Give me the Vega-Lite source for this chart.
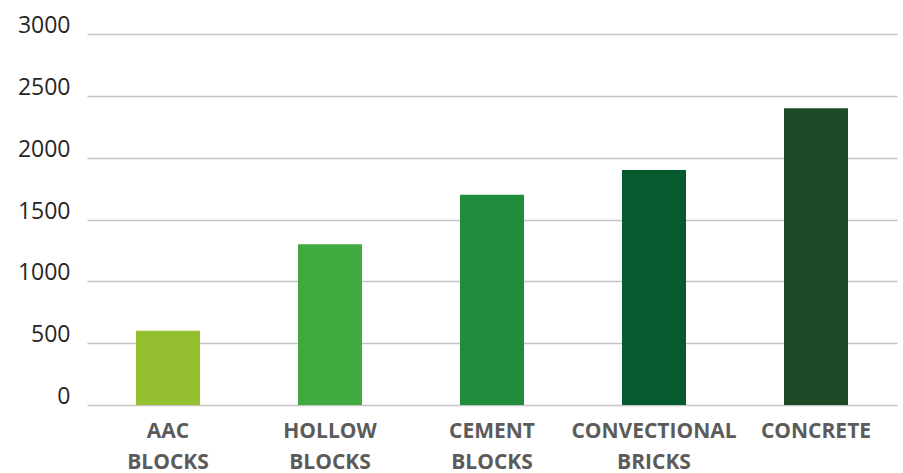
{
  "$schema": "https://vega.github.io/schema/vega-lite/v6.json",
  "autosize": {"type": "none"},
  "padding": {"left": 87, "top": 34, "right": 6, "bottom": 68},
  "width": 810,
  "height": 371,
  "background": "white",
  "data": {
    "values": [
      {"material": "AAC BLOCKS", "value": 600, "color": "#94c02f"},
      {"material": "HOLLOW BLOCKS", "value": 1300, "color": "#40aa40"},
      {"material": "CEMENT BLOCKS", "value": 1700, "color": "#1f8d3c"},
      {"material": "CONVECTIONAL BRICKS", "value": 1900, "color": "#065b2e"},
      {"material": "CONCRETE", "value": 2400, "color": "#1c4a26"}
    ]
  },
  "mark": {"type": "bar"},
  "encoding": {
    "x": {
      "field": "material",
      "type": "nominal",
      "sort": null,
      "scale": {"paddingInner": 0.605, "paddingOuter": 0.3025},
      "axis": {
        "title": null,
        "domain": false,
        "ticks": false,
        "labelAngle": 0,
        "labelExpr": "split(datum.label, ' ')",
        "labelFont": "Open Sans",
        "labelFontWeight": "bold",
        "labelFontSize": 21,
        "labelColor": "#5b5b5b",
        "labelLineHeight": 31,
        "labelPadding": 15,
        "labelLimit": 300
      }
    },
    "y": {
      "field": "value",
      "type": "quantitative",
      "scale": {"domain": [0, 3000]},
      "axis": {
        "title": null,
        "values": [0, 500, 1000, 1500, 2000, 2500, 3000],
        "format": "d",
        "domain": false,
        "ticks": false,
        "grid": true,
        "gridColor": "#c4c4c4",
        "gridWidth": 1.4,
        "labelFont": "Open Sans",
        "labelFontSize": 23,
        "labelColor": "#262626",
        "labelPadding": 17,
        "labelBaseline": "alphabetic",
        "labelOffset": -1.5
      }
    },
    "color": {"field": "color", "type": "nominal", "scale": null, "legend": null}
  },
  "config": {"view": {"stroke": null}}
}
